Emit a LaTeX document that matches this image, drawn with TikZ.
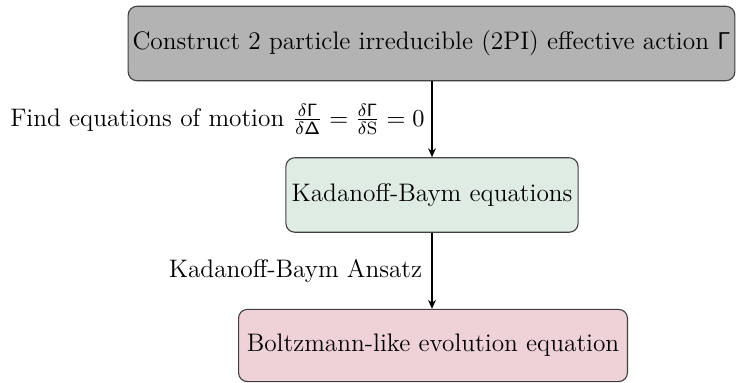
\documentclass[tikz,border=0pt]{standalone}
\usetikzlibrary{arrows.meta}
\definecolor{topgray}{RGB}{179,179,179}
\definecolor{midgreen}{RGB}{223,236,227}
\definecolor{botpink}{RGB}{239,210,216}
\begin{document}
\begin{tikzpicture}[x=0.45pt,y=-0.45pt,
  every node/.style={font=\fontsize{11.4}{13.5}\selectfont},
  box/.style={draw=black!75, rounded corners=4pt, line width=0.5pt, align=center, inner sep=0pt},
  arr/.style={-{Stealth[length=4pt,width=3.5pt]}, line width=0.6pt}]
\useasboundingbox (0,0) rectangle (736,383);
\node[box, fill=topgray, minimum width=273pt, minimum height=33.5pt] (a) at (431.5,43.5)
  {Construct 2 particle irreducible (2PI) effective action $\mathsf{\Gamma}$};
\node[box, fill=midgreen, minimum width=131.5pt, minimum height=33.5pt] (b) at (432,195)
  {Kadanoff-Baym equations};
\node[box, fill=botpink, minimum width=175pt, minimum height=32.5pt] (c) at (433,345.5)
  {Boltzmann-like evolution equation};
\draw[arr] (a.south -| b.north) -- node[left=-0.3pt] {Find equations of motion $\frac{\delta\mathsf{\Gamma}}{\delta\mathsf{\Delta}}=\frac{\delta\mathsf{\Gamma}}{\delta\mathrm{S}}=0$} (b.north);
\draw[arr] (b.south) -- node[left=0.8pt] {Kadanoff-Baym Ansatz} (c.north -| b.south);
\end{tikzpicture}
\end{document}
